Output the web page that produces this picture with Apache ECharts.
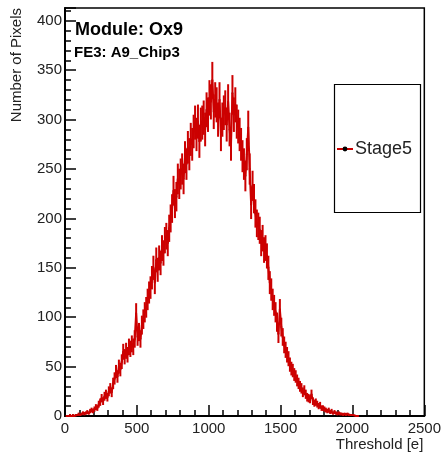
<!DOCTYPE html>
<html>
<head>
<meta charset="utf-8">
<script src="https://cdn.jsdelivr.net/npm/echarts@6/dist/echarts.min.js"></script>
<style>
html,body{margin:0;padding:0;background:#fff;}
#chart{width:444px;height:456px;}
</style>
</head>
<body>
<div id="chart"></div>
<script>
// Histogram: bin width and first bin edge
var binStart = 0;
var binWidth = 10;
// Counts per bin (bins 0-10, 10-20, ...)
var counts = [
  0,0,0,1,0,
  1,0,1,1,2,
  1,2,3,2,3,
  4,3,5,6,5,
  7,9,8,12,14,
  18,15,20,22,19,
  25,28,24,33,38,
  45,40,50,47,55,
  65,60,66,62,70,
  68,73,70,78,104,
  80,85,78,92,98,
  105,110,118,125,130,
  140,150,135,158,148,
  160,155,170,165,178,
  182,175,190,200,210,
  228,215,222,240,235,
  245,250,240,262,255,
  272,265,280,275,288,
  297,285,298,278,295,
  297,302,290,310,305,
  322,318,340,308,320,
  315,300,320,285,300,
  307,312,295,318,290,
  275,327,305,315,298,
  293,285,275,263,255,
  243,265,292,250,214,
  233,220,205,195,192,
  188,175,180,168,170,
  162,150,135,128,118,
  112,105,95,83,108,
  90,80,72,67,62,
  58,52,48,46,42,
  40,36,33,30,28,
  24,26,22,19,18,
  17,22,15,13,14,
  12,10,11,8,8,
  7,6,5,6,4,
  5,3,4,3,2,
  3,2,2,1,2,
  1,2,1,1,0,
  1,0,0,0,0
];
var seriesName = 'Stage5';
var xTicks = [0, 500, 1000, 1500, 2000, 2500];
var yTicks = [0, 50, 100, 150, 200, 250, 300, 350, 400];
var title1 = 'Module: Ox9';
var title2 = 'FE3: A9_Chip3';
var xTitle = 'Threshold [e]';
var yTitle = 'Number of Pixels';

var pts = counts.map(function (c, i) { return [binStart + binWidth * (i + 0.5), c]; });

var FONT = 'Liberation Sans, Arial, Helvetica, sans-serif';
var RED = '#cc0000';

var chart = echarts.init(document.getElementById('chart'), null, {renderer: 'canvas'});
chart.setOption({
  backgroundColor: '#fff',
  animation: false,
  grid: {left: 65, right: 15, top: 8, bottom: 40, show: true, borderColor: '#000', borderWidth: 1.5, backgroundColor: 'transparent'},
  xAxis: {
    type: 'value', min: xTicks[0], max: xTicks[xTicks.length - 1], interval: xTicks[1] - xTicks[0],
    axisLine: {show: true, onZero: false, lineStyle: {color: '#000', width: 2}},
    axisTick: {show: true, inside: true, length: 11, lineStyle: {color: '#000', width: 1.5}},
    minorTick: {show: true, splitNumber: 5, length: 6, lineStyle: {color: '#000', width: 1.5}},
    splitLine: {show: false},
    axisLabel: {color: '#222', fontFamily: FONT, fontSize: 15, margin: 5, formatter: function (v) { return String(v); }},
    name: xTitle, nameLocation: 'end', nameGap: -1,
    nameTextStyle: {color: '#222', fontFamily: FONT, fontSize: 15, align: 'right', verticalAlign: 'top', padding: [21, 0, 0, 0]}
  },
  yAxis: {
    type: 'value', min: yTicks[0], max: 413, interval: yTicks[1] - yTicks[0],
    axisLine: {show: true, onZero: false, lineStyle: {color: '#000', width: 2}},
    axisTick: {show: true, inside: true, length: 11, lineStyle: {color: '#000', width: 1.5}},
    minorTick: {show: true, splitNumber: 5, length: 6, lineStyle: {color: '#000', width: 1.5}},
    splitLine: {show: false},
    axisLabel: {color: '#222', fontFamily: FONT, fontSize: 15, margin: 3, showMaxLabel: false, formatter: function (v) { return String(v); }}
  },
  legend: {
    show: true, left: 336, top: 140, itemWidth: 16, itemHeight: 6, itemGap: 0,
    padding: 0,
    textStyle: {color: '#222', fontFamily: FONT, fontSize: 18, padding: [0, 0, 0, -3]},
    data: [seriesName]
  },
  series: [
    {
      name: seriesName + '_markers', type: 'scatter', data: pts, symbol: 'circle', symbolSize: 2,
      itemStyle: {color: '#000'}, z: 1, silent: true
    },
    {
      name: seriesName, type: 'line', data: pts, showSymbol: false, symbol: 'circle', symbolSize: 3,
      itemStyle: {color: '#000'},
      lineStyle: {color: RED, width: 2}, z: 2, silent: true
    },
    {
      name: seriesName + '_err', type: 'custom', data: pts, z: 3, silent: true,
      renderItem: function (params, api) {
        var x = api.value(0), y = api.value(1);
        if (y <= 0) return null;
        var e = Math.sqrt(y);
        var p1 = api.coord([x, y - e]);
        var p2 = api.coord([x, y + e]);
        return {type: 'line', shape: {x1: p1[0], y1: p1[1], x2: p2[0], y2: p2[1]},
                style: {stroke: RED, lineWidth: 2}};
      }
    }
  ],
  graphic: [
    {type: 'text', left: 75, top: 21, style: {text: title1, fill: '#000', font: 'bold 18px ' + FONT}},
    {type: 'text', left: 74, top: 45, style: {text: title2, fill: '#000', font: 'bold 15px ' + FONT}},
    {type: 'text', x: 17, y: 8, rotation: Math.PI / 2,
     style: {text: yTitle, fill: '#222', font: '15px ' + FONT, align: 'right', verticalAlign: 'middle'}},
    {type: 'rect', shape: {x: 334.5, y: 84.5, width: 86, height: 128},
     style: {fill: 'transparent', stroke: '#000', lineWidth: 1.2}, z: 10}
  ]
});
</script>
</body>
</html>
